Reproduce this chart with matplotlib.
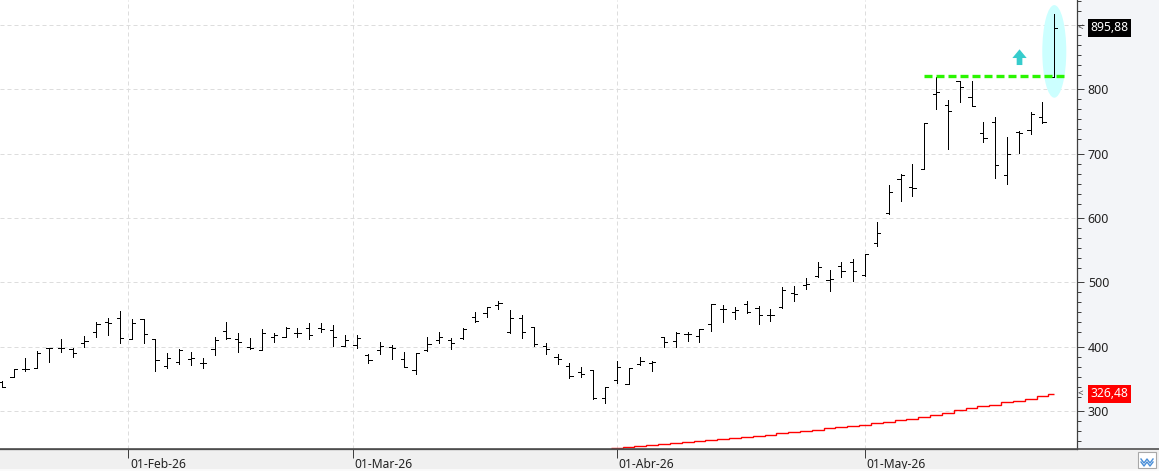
import numpy as np
import pandas as pd
import matplotlib
matplotlib.use("Agg")
import matplotlib.pyplot as plt
from matplotlib.patches import Ellipse, FancyArrow, Rectangle
from matplotlib.lines import Line2D

plt.rcParams['font.family'] = ['Noto Sans', 'DejaVu Sans']

# sesiones diarias (calendario USA)
fechas = pd.bdate_range('2026-01-15', '2026-05-26', freq='C',
                        holidays=['2026-01-19', '2026-02-16', '2026-04-03', '2026-05-25'])

apertura = [345.0, 352.3, 364.7, 366.3, 397.4, 397.4, 396.3, 406.2, 422.2, 438.8,
            444.0, 411.4, 442.5, 411.9, 370.4, 376.7, 380.8, 374.1, 396.3, 424.3,
            411.9, 400.0, 394.8, 415.5, 414.5, 420.7, 428.5, 428.5, 425.9, 401.5,
            402.6, 387.0, 394.8, 400.0, 380.8, 363.7, 394.8, 410.3, 410.3, 412.9,
            446.6, 452.8, 464.7, 422.3, 445.1, 430.0, 401.5, 383.4, 370.4, 361.1,
            363.7, 320.7, 348.2, 341.4, 372.5, 375.1, 415.6, 409.4, 419.2, 416.6,
            434.8, 458.1, 454.4, 465.8, 460.7, 449.3, 462.2, 482.9, 495.9, 510.4,
            503.7, 525.4, 531.1, 511.4, 560.7, 608.3, 660.1, 648.8, 675.7, 792.3,
            775.7, 813.5, 787.6, 731.7, 748.8, 666.9, 734.2, 736.8, 756.5, 819.7]
maximo = [347.1, 364.7, 381.8, 393.7, 397.4, 411.4, 397.4, 416.5, 438.8, 444.0,
          455.4, 442.5, 442.5, 411.9, 390.6, 395.8, 391.2, 381.8, 414.5, 437.8,
          420.7, 412.9, 426.9, 420.7, 430.0, 428.5, 436.2, 436.2, 433.7, 418.1,
          418.1, 388.6, 407.7, 402.6, 391.2, 390.7, 414.5, 422.3, 412.9, 428.5,
          453.3, 462.2, 471.0, 457.0, 449.2, 430.0, 405.2, 388.6, 374.1, 367.9,
          363.7, 337.8, 378.2, 366.3, 384.4, 378.2, 415.6, 422.3, 423.3, 427.5,
          465.8, 464.8, 462.2, 471.0, 463.8, 458.6, 492.3, 494.3, 506.2, 531.1,
          519.2, 531.1, 535.8, 544.1, 593.3, 651.3, 667.9, 684.0, 747.2, 819.7,
          783.5, 813.5, 813.0, 748.8, 756.5, 726.5, 735.3, 764.3, 779.8, 916.6]
minimo = [336.8, 352.3, 362.1, 366.3, 376.7, 391.2, 383.4, 398.9, 415.5, 417.6,
          406.2, 411.4, 406.2, 362.7, 366.3, 373.0, 370.9, 366.3, 387.0, 411.9,
          392.2, 395.8, 394.8, 407.7, 414.5, 414.5, 411.4, 422.3, 401.5, 401.0,
          397.4, 374.1, 388.6, 380.3, 367.9, 357.0, 393.8, 405.2, 395.8, 411.9,
          437.8, 445.6, 458.0, 421.7, 414.0, 401.0, 388.6, 372.5, 351.8, 353.4,
          318.6, 311.9, 343.0, 341.4, 371.5, 362.6, 399.0, 399.0, 409.4, 407.8,
          424.9, 438.9, 443.0, 451.8, 435.3, 440.4, 459.6, 471.5, 489.1, 508.8,
          487.1, 508.8, 502.6, 510.4, 557.0, 605.7, 627.0, 634.8, 675.7, 769.0,
          706.8, 779.8, 774.7, 718.7, 662.8, 652.4, 700.6, 730.6, 747.2, 819.7]
cierre = [336.8, 364.7, 364.7, 389.6, 397.4, 397.4, 390.6, 409.3, 434.7, 437.3,
          414.0, 437.3, 419.7, 378.7, 382.9, 394.8, 381.8, 374.1, 410.3, 412.9,
          406.7, 398.4, 420.7, 418.1, 428.5, 421.7, 418.1, 427.4, 415.5, 410.3,
          412.9, 379.3, 401.5, 397.4, 368.9, 389.6, 403.6, 415.5, 406.2, 426.9,
          440.4, 461.1, 468.4, 444.0, 422.3, 403.6, 396.4, 380.8, 354.9, 357.0,
          319.7, 336.8, 367.9, 366.3, 377.7, 376.6, 406.8, 421.8, 419.2, 427.5,
          465.8, 458.1, 457.0, 454.4, 449.3, 449.3, 488.1, 481.9, 496.9, 524.4,
          504.7, 518.2, 517.6, 544.1, 576.2, 639.9, 666.9, 646.2, 747.2, 795.4,
          766.4, 803.2, 774.7, 723.9, 682.4, 699.0, 731.7, 761.2, 749.8, 895.88]

# media movil (solo visible desde abril)
media_inicio = 52
media = [242.5, 244.0, 245.6, 247.1, 248.7, 250.3, 251.8, 253.4, 254.9, 256.5,
         258.0, 259.6, 260.6, 262.2, 265.3, 267.3, 268.9, 270.4, 273.0, 274.6,
         276.1, 278.2, 280.8, 282.9, 285.5, 287.5, 290.1, 293.7, 296.8, 300.9,
         304.1, 307.2, 309.8, 313.4, 316.0, 319.1, 322.7, 326.48]

resistencia = 821.3
etiquetas_mes = ['01-Feb-26', '01-Mar-26', '01-Abr-26', '01-May-26']
niveles = [300, 400, 500, 600, 700, 800, 900]

W, H = 1159, 471
fig = plt.figure(figsize=(W / 100, H / 100), dpi=100)
fig.set_facecolor('#f0f0f0')
ax = fig.add_axes([0, 22 / H, 1077 / W, 449 / H])

# fondo del eje derecho y detalles del marco
fig.add_artist(Rectangle((1077 / W, 22 / H), 82 / W, 449 / H, transform=fig.transFigure,
                         facecolor='#f3f5f8', edgecolor='none', zorder=-1))
fig.add_artist(Rectangle((0, 0), 1, 2 / H, transform=fig.transFigure,
                         facecolor='#fafafa', edgecolor='none'))
fig.add_artist(Line2D([0, 1], [22 / H, 22 / H], transform=fig.transFigure,
                      color='#505050', lw=1.2))
fig.add_artist(Rectangle((1138 / W, 3 / H), 18 / W, 16 / H, transform=fig.transFigure,
                         facecolor='white', edgecolor='#a8a8a8', lw=0.8))
zx = np.array([1141, 1144, 1147, 1150, 1153]) / W
fig.add_artist(Line2D(zx, np.array([12, 8, 12, 8, 12]) / H, transform=fig.transFigure,
                      color='#4a8fd8', lw=1.0))
fig.add_artist(Line2D(zx, np.array([9, 5, 9, 5, 9]) / H, transform=fig.transFigure,
                      color='#4a8fd8', lw=1.0))

x = np.arange(len(fechas))

# barras OHLC
t = 0.27
ax.vlines(x, minimo, maximo, color='black', lw=0.6, antialiased=False, zorder=3)
ax.hlines(apertura, x - t, x, color='black', lw=0.6, antialiased=False, zorder=3)
ax.hlines(cierre, x, x + t, color='black', lw=0.6, antialiased=False, zorder=3)

# media movil en escalones
xm = x[media_inicio:]
ax.stairs(media, np.r_[xm - 0.5, xm[-1]], baseline=None, color='red', lw=1.0, zorder=3)

# resistencia, elipse y flecha
ax.add_patch(Ellipse((x[-1], 859), 2.03, 144, facecolor='#ccffff', edgecolor='none', zorder=1))
ax.hlines(resistencia, 78, 89.85, color='#2bf500', lw=2.4,
          linestyle=(0, (2.4, 1.2)), zorder=4)
ax.add_patch(FancyArrow(86.06, 837.8, 0, 24.4, width=0.48, head_width=1.21,
                        head_length=13.5, length_includes_head=True,
                        facecolor='#36cccc', edgecolor='none', zorder=4))

ax.set_xlim(-0.144, 90.92)
ax.set_ylim(240.9, 938.9)

# eje x: primer dia de cada mes
pos_mes = []
for m in [2, 3, 4, 5]:
    i = int(np.argmax(fechas.month == m))
    pos_mes.append(i - (0.3 if fechas[i].day != 1 else 0.0))
ax.set_xticks(pos_mes)
ax.tick_params(axis='x', direction='out', length=6.5, width=0.72, color='#404040',
               labelbottom=False)
for p, lab in zip(pos_mes, etiquetas_mes):
    ax.text(p + 0.15, -0.034, lab, transform=ax.get_xaxis_transform(),
            ha='left', va='center', fontsize=8.7, color='#222222')

# eje y a la derecha
ax.yaxis.tick_right()
ax.set_yticks(niveles)
ax.set_yticklabels([str(v) if v < 900 else '' for v in niveles])
menores = [v - 15.54 * k for v in niveles + [1000] for k in range(1, 6)]
ax.set_yticks([v for v in menores if 240.9 < v < 938.9], minor=True)
ax.tick_params(axis='y', which='major', direction='out', length=5, width=0.72,
               color='#404040', pad=2.8, labelsize=9, labelcolor='#222222')
ax.tick_params(axis='y', which='minor', direction='out', length=2.9, width=0.72,
               color='#404040')

ax.grid(True, which='major', color='#dddddd', lw=0.72, linestyle=(0, (4, 3)))
ax.set_axisbelow(True)
for s in ['top', 'left']:
    ax.spines[s].set_visible(False)
for s in ['right', 'bottom']:
    ax.spines[s].set_color('#404040')
    ax.spines[s].set_linewidth(0.9)

# etiquetas de precio en el eje
for valor, fondo in [(cierre[-1], 'black'), (media[-1], '#ff0000')]:
    ax.text(1.0125, valor, f'{valor:.2f}'.replace('.', ','),
            transform=ax.get_yaxis_transform(), ha='left', va='center',
            fontsize=8.7, color='white', clip_on=False,
            bbox=dict(boxstyle='square,pad=0.22', facecolor=fondo, edgecolor='none'))
    ax.text(1.0008, valor, '<', transform=ax.get_yaxis_transform(), ha='left',
            va='center', fontsize=7, color='#404040', clip_on=False)

fig.savefig('out.png', dpi=100, facecolor=fig.get_facecolor())
